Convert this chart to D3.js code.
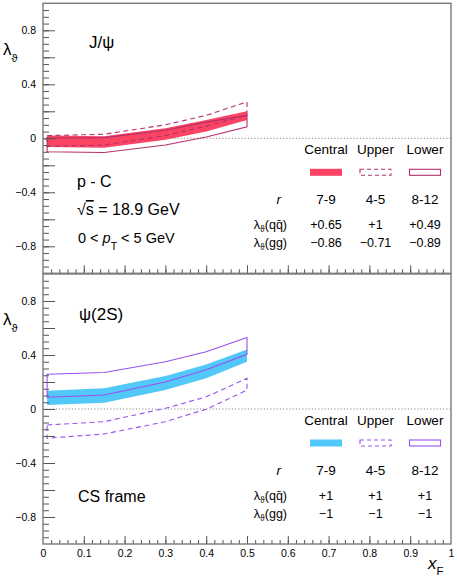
<!DOCTYPE html>
<html>
<head>
<meta charset="utf-8">
<script src="https://cdn.jsdelivr.net/npm/d3@7"></script>
<style>
  body { margin: 0; background: #fff; }
  svg text { font-family: "Liberation Sans", Arial, Helvetica, sans-serif; fill: #000; }
</style>
</head>
<body>
<div id="chart"></div>
<script>
// x_F points where the predictions are evaluated
var xF = [0.01, 0.15, 0.3, 0.4, 0.5];

// J/psi bands (upper / lower edge of each band)
var jpsiCentralHi = [0.02, 0.015, 0.075, 0.135, 0.2];
var jpsiCentralLo = [-0.065, -0.07, -0.01, 0.05, 0.135];
var jpsiUpperHi = [0.02, 0.03, 0.1, 0.17, 0.27];
var jpsiUpperLo = [-0.06, -0.05, 0.02, 0.09, 0.17];
var jpsiLowerHi = [0.0, 0.005, 0.06, 0.12, 0.17];
var jpsiLowerLo = [-0.1, -0.105, -0.05, 0.01, 0.085];

// psi(2S) bands
var psiCentralHi = [0.136, 0.153, 0.244, 0.33, 0.44];
var psiCentralLo = [0.03, 0.047, 0.14, 0.227, 0.35];
var psiUpperHi = [-0.118, -0.094, 0.005, 0.09, 0.227];
var psiUpperLo = [-0.217, -0.185, -0.094, -0.002, 0.14];
var psiLowerHi = [0.257, 0.27, 0.35, 0.424, 0.53];
var psiLowerLo = [0.087, 0.104, 0.2, 0.29, 0.405];

// legend table
var legendNames = ["Central", "Upper", "Lower"];
var rValues = ["7-9", "4-5", "8-12"];
var jpsiQQ = ["+0.65", "+1", "+0.49"];
var jpsiGG = ["\u22120.86", "\u22120.71", "\u22120.89"];
var psiQQ = ["+1", "+1", "+1"];
var psiGG = ["\u22121", "\u22121", "\u22121"];

// tick values
var yLabelTicks = [-0.8, -0.4, 0, 0.4, 0.8];
var xLabelTicks = [0, 0.1, 0.2, 0.3, 0.4, 0.5, 0.6, 0.7, 0.8, 0.9, 1];

var width = 457, height = 579;
var svg = d3.select("#chart").append("svg")
    .attr("width", width)
    .attr("height", height);

var x = d3.scaleLinear().domain([0, 1]).range([43, 451]);
var frameColor = "#7a7a7a";

var yMinor = d3.range(-19, 20).map(d => d * 0.05);
var yMajor = d3.range(-4, 5).map(d => d * 0.2);
var xMinor = d3.range(1, 50).map(d => d * 0.02);
var xMajor = d3.range(1, 10).map(d => d * 0.1);

function fmt(v) {
    if (Math.abs(v) < 1e-9) return "0";
    return d3.format(".1f")(v);
}
function fmtX(v) {
    if (Math.abs(v) < 1e-9) return "0";
    if (Math.abs(v - 1) < 1e-9) return "1";
    return d3.format(".1f")(v);
}

function rows(hi, lo) {
    return xF.map((d, i) => ({x: d, hi: hi[i], lo: lo[i]}));
}

function drawPanel(top, bottom, opts) {
    var y = d3.scaleLinear().domain([-1, 1]).range([bottom, top]);
    var g = svg.append("g");

    // zero line
    g.append("line")
        .attr("x1", x(0)).attr("x2", x(1))
        .attr("y1", y(0)).attr("y2", y(0))
        .attr("stroke", "#8a8a8a")
        .attr("stroke-width", 1)
        .attr("stroke-dasharray", "1.2,2");

    // central band
    var area = d3.area()
        .x(d => x(d.x))
        .y0(d => y(d.lo))
        .y1(d => y(d.hi));
    g.append("path")
        .datum(rows(opts.centralHi, opts.centralLo))
        .attr("d", area)
        .attr("fill", opts.fill);

    // outlined bands: go along the upper edge, back along the lower edge
    function outline(hi, lo) {
        var pts = xF.map((d, i) => [x(d), y(hi[i])])
            .concat(xF.map((d, i) => [x(d), y(lo[i])]).reverse());
        return d3.line()(pts) + "Z";
    }
    g.append("path")
        .attr("d", outline(opts.lowerHi, opts.lowerLo))
        .attr("fill", "none")
        .attr("stroke", opts.line)
        .attr("stroke-width", 1.1);
    g.append("path")
        .attr("d", outline(opts.upperHi, opts.upperLo))
        .attr("fill", "none")
        .attr("stroke", opts.line)
        .attr("stroke-width", 1.1)
        .attr("stroke-dasharray", "5,3.5");

    // y ticks (inside the frame)
    g.append("g")
        .attr("transform", "translate(" + x(0) + ",0)")
        .call(d3.axisRight(y).tickValues(yMinor).tickSize(6).tickFormat(""))
        .call(a => a.select(".domain").remove())
        .selectAll("line").attr("stroke", "#555");
    g.append("g")
        .attr("transform", "translate(" + x(0) + ",0)")
        .call(d3.axisRight(y).tickValues(yMajor).tickSize(12).tickFormat(""))
        .call(a => a.select(".domain").remove())
        .selectAll("line").attr("stroke", "#555");
    var yl = g.append("g")
        .attr("transform", "translate(" + x(0) + ",0)")
        .call(d3.axisLeft(y).tickValues(yLabelTicks).tickSize(0).tickPadding(7).tickFormat(fmt));
    yl.select(".domain").remove();
    yl.selectAll("text")
        .style("font-family", "Liberation Sans, Arial, sans-serif")
        .style("font-size", "10.5px")
        .attr("fill", "#222");

    // x ticks (pointing up from the bottom edge)
    g.append("g")
        .attr("transform", "translate(0," + bottom + ")")
        .call(d3.axisTop(x).tickValues(xMinor).tickSize(4).tickFormat(""))
        .call(a => a.select(".domain").remove())
        .selectAll("line").attr("stroke", "#555");
    g.append("g")
        .attr("transform", "translate(0," + bottom + ")")
        .call(d3.axisTop(x).tickValues(xMajor).tickSize(8).tickFormat(""))
        .call(a => a.select(".domain").remove())
        .selectAll("line").attr("stroke", "#555");

    // frame
    g.append("rect")
        .attr("x", x(0)).attr("y", top)
        .attr("width", x(1) - x(0)).attr("height", bottom - top)
        .attr("fill", "none")
        .attr("stroke", frameColor)
        .attr("stroke-width", 1.4);

    // y axis title
    var yt = g.append("text")
        .attr("x", 3).attr("y", y(0.62))
        .style("font-size", "17px");
    yt.append("tspan").text("\u03bb");
    yt.append("tspan").attr("dy", 7).style("font-size", "11px").text("\u03d1");

    // legend
    var col = d3.scalePoint().domain(legendNames).range([326, 425]);
    var base = y(0) + 15.5;
    g.selectAll(".lname")
        .data(legendNames)
        .join("text")
        .attr("x", d => col(d))
        .attr("y", base)
        .attr("text-anchor", "middle")
        .style("font-size", "13.5px")
        .text(d => d);

    var sw = 32, sh = 7, sy = base + 15;
    g.append("rect")
        .attr("x", col("Central") - 16).attr("y", sy)
        .attr("width", sw).attr("height", sh)
        .attr("fill", opts.fill);
    g.append("rect")
        .attr("x", col("Upper") - 15.5).attr("y", sy + 0.5)
        .attr("width", sw - 1).attr("height", sh - 1)
        .attr("fill", "none").attr("stroke", opts.line)
        .attr("stroke-width", 1.1).attr("stroke-dasharray", "4,3");
    g.append("rect")
        .attr("x", col("Lower") - 15.5).attr("y", sy + 0.5)
        .attr("width", sw - 1).attr("height", sh - 1)
        .attr("fill", "none").attr("stroke", opts.line)
        .attr("stroke-width", 1.1);

    var rY = base + 50, qqY = base + 75, ggY = base + 93;
    g.append("text")
        .attr("x", 281).attr("y", rY)
        .attr("text-anchor", "end")
        .style("font-size", "13.5px").style("font-style", "italic")
        .text("r");
    g.selectAll(".rv")
        .data(rValues)
        .join("text")
        .attr("x", (d, i) => col(legendNames[i]))
        .attr("y", rY)
        .attr("text-anchor", "middle")
        .style("font-size", "13.5px")
        .text(d => d);

    function lambdaLabel(yy, inner) {
        var t = g.append("text")
            .attr("x", 287).attr("y", yy)
            .attr("text-anchor", "end")
            .style("font-size", "12.5px");
        t.append("tspan").text("\u03bb");
        t.append("tspan").attr("dy", 3.5).style("font-size", "8.5px").text("\u03d1");
        t.append("tspan").attr("dy", -3.5).text(inner);
    }
    lambdaLabel(qqY, "(q\u0071\u0304)");
    lambdaLabel(ggY, "(gg)");

    g.selectAll(".qq")
        .data(opts.qq)
        .join("text")
        .attr("x", (d, i) => col(legendNames[i]))
        .attr("y", qqY)
        .attr("text-anchor", "middle")
        .style("font-size", "12.5px")
        .text(d => d);
    g.selectAll(".gg")
        .data(opts.gg)
        .join("text")
        .attr("x", (d, i) => col(legendNames[i]))
        .attr("y", ggY)
        .attr("text-anchor", "middle")
        .style("font-size", "12.5px")
        .text(d => d);

    return {g: g, y: y};
}

// Top panel: J/psi
var p1 = drawPanel(3.3, 273.3, {
    fill: "#fb4464", line: "#b5306c",
    centralHi: jpsiCentralHi, centralLo: jpsiCentralLo,
    upperHi: jpsiUpperHi, upperLo: jpsiUpperLo,
    lowerHi: jpsiLowerHi, lowerLo: jpsiLowerLo,
    qq: jpsiQQ, gg: jpsiGG
});
p1.g.append("text").attr("x", 89).attr("y", 48)
    .style("font-size", "17px").text("J/\u03c8");
p1.g.append("text").attr("x", 77).attr("y", 187)
    .style("font-size", "16px").text("p - C");
var sq = p1.g.append("text").attr("x", 77).attr("y", 215)
    .style("font-size", "16px");
sq.append("tspan").text("\u221a");
sq.append("tspan").style("text-decoration", "overline").text("s");
sq.append("tspan").text(" = 18.9 GeV");
var pt = p1.g.append("text").attr("x", 78).attr("y", 243)
    .style("font-size", "14.5px");
pt.append("tspan").text("0 < ");
pt.append("tspan").style("font-style", "italic").text("p");
pt.append("tspan").attr("dy", 7).style("font-size", "10.5px").text("T");
pt.append("tspan").attr("dy", -7).text(" < 5 GeV");

// Bottom panel: psi(2S)
var p2 = drawPanel(274, 544, {
    fill: "#52c8f8", line: "#9a50ee",
    centralHi: psiCentralHi, centralLo: psiCentralLo,
    upperHi: psiUpperHi, upperLo: psiUpperLo,
    lowerHi: psiLowerHi, lowerLo: psiLowerLo,
    qq: psiQQ, gg: psiGG
});
p2.g.append("text").attr("x", 79).attr("y", 320)
    .style("font-size", "17px").text("\u03c8(2S)");
p2.g.append("text").attr("x", 78).attr("y", 502)
    .style("font-size", "16px").text("CS frame");

// x labels on the bottom panel
var xl = svg.append("g")
    .attr("transform", "translate(0,544)")
    .call(d3.axisBottom(x).tickValues(xLabelTicks).tickSize(0).tickPadding(6).tickFormat(fmtX));
xl.select(".domain").remove();
xl.selectAll("text")
    .style("font-family", "Liberation Sans, Arial, sans-serif")
    .style("font-size", "10.5px")
    .attr("fill", "#222");

var xt = svg.append("text").attr("x", 428).attr("y", 569)
    .style("font-size", "17px");
xt.append("tspan").style("font-style", "italic").text("x");
xt.append("tspan").attr("dy", 6).style("font-size", "11.5px").text("F");
</script>
</body>
</html>
